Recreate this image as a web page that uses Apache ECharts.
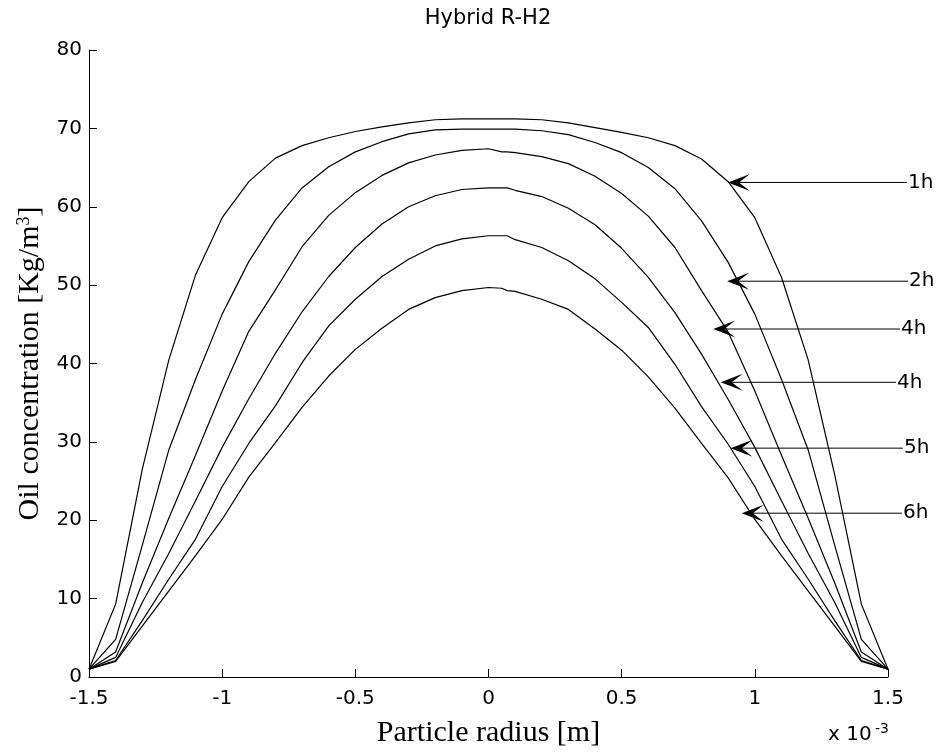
<!DOCTYPE html>
<html>
<head>
<meta charset="utf-8">
<script src="https://cdn.jsdelivr.net/npm/echarts@6/dist/echarts.min.js"></script>
<style>
  html, body { margin: 0; padding: 0; background: #fff; }
  #chart { width: 937px; height: 753px; }
</style>
</head>
<body>
<div id="chart"></div>
<script>
  // particle radius, in units of 10^-3 m
  const radius = [-1.5, -1.4, -1.3, -1.2, -1.1, -1.0, -0.9, -0.8, -0.7, -0.6, -0.5, -0.4, -0.3, -0.2, -0.1, 0,
    0.05, 0.07, 0.1, 0.2, 0.3, 0.4, 0.5, 0.6, 0.7, 0.8, 0.9, 1.0, 1.1, 1.2, 1.3, 1.4, 1.5]

  // oil concentration [Kg/m3] per curve
  const conc1h = [1.0, 9.3, 26.5, 40.5, 51.3, 58.6, 63.2, 66.2, 67.8, 68.8, 69.6, 70.2, 70.7, 71.1, 71.2, 71.2,
    71.2, 71.2, 71.2, 71.1, 70.7, 70.1, 69.5, 68.8, 67.8, 66.1, 63.2, 58.6, 51.0, 40.5, 25.8, 9.3, 1.0]
  const conc2h = [1.0, 4.8, 16.8, 29.0, 38.0, 46.3, 53.0, 58.3, 62.4, 65.1, 67.0, 68.3, 69.3, 69.8, 69.9, 69.9,
    69.9, 69.9, 69.9, 69.7, 69.2, 68.2, 66.9, 65.0, 62.3, 58.2, 52.9, 46.3, 38.0, 29.0, 16.8, 4.8, 1.0]
  const conc4hA = [1.0, 3.2, 12.0, 20.3, 28.3, 36.5, 44.1, 49.4, 54.9, 58.9, 61.8, 64.0, 65.6, 66.6, 67.2, 67.4,
    67.0, 67.0, 66.9, 66.4, 65.5, 63.9, 61.7, 58.8, 54.8, 49.3, 44.0, 36.5, 28.3, 20.3, 12.0, 3.2, 1.0]
  const conc4hB = [1.0, 2.5, 9.5, 15.8, 22.5, 29.3, 35.5, 41.3, 46.6, 51.1, 54.8, 57.8, 60.0, 61.4, 62.2, 62.4,
    62.4, 62.4, 62.1, 61.3, 59.8, 57.7, 54.7, 51.0, 46.5, 41.2, 35.4, 29.3, 22.5, 15.8, 9.5, 2.5, 1.0]
  const conc5h = [1.0, 2.1, 7.2, 12.5, 17.6, 24.3, 29.8, 34.6, 40.1, 44.8, 48.2, 51.1, 53.3, 55.0, 55.9, 56.3,
    56.3, 56.3, 55.8, 54.8, 53.1, 50.8, 47.8, 44.6, 39.9, 34.5, 29.7, 24.3, 17.6, 12.5, 7.2, 2.1, 1.0]
  const conc6h = [1.0, 2.0, 6.5, 11.0, 15.5, 20.1, 25.5, 29.9, 34.4, 38.4, 41.8, 44.5, 46.9, 48.4, 49.3, 49.7,
    49.6, 49.3, 49.2, 48.2, 46.9, 44.4, 41.7, 38.3, 34.3, 29.8, 25.4, 20.1, 15.5, 11.0, 6.5, 2.0, 1.0]

  // arrow annotations: label, arrow tip (x, y) and where the line meets the label (x)
  const annoLabels = ['1h', '2h', '4h', '4h', '5h', '6h']
  const annoTipX = [0.899, 0.896, 0.844, 0.872, 0.909, 0.951]
  const annoTipY = [63.1, 50.5, 44.4, 37.6, 29.2, 20.9]
  const annoEndX = [1.571, 1.575, 1.545, 1.530, 1.556, 1.553]

  const sansFont = 'DejaVu Sans, Arial, sans-serif'
  const serifFont = 'Liberation Serif, Times New Roman, serif'

  const curves = [conc1h, conc2h, conc4hA, conc4hB, conc5h, conc6h]

  function pairs(ys) {
    let out = []
    for (let i = 0; i < radius.length; i++) {
      out.push([radius[i], ys[i]])
    }
    return out
  }

  const chart = echarts.init(document.getElementById('chart'))

  const option = {
    animation: false,
    backgroundColor: '#fff',
    title: {
      text: 'Hybrid R-H2',
      left: 488,
      top: 8,
      padding: 0,
      textAlign: 'center',
      textStyle: { fontFamily: sansFont, fontSize: 21, fontWeight: 'normal', color: '#000' }
    },
    grid: { left: 89, right: 49, top: 50, bottom: 75 },
    xAxis: {
      type: 'value',
      min: -1.5,
      max: 1.5,
      interval: 0.5,
      name: 'Particle radius [m]',
      nameLocation: 'middle',
      nameGap: 41,
      nameTextStyle: { fontFamily: serifFont, fontSize: 30, color: '#000' },
      axisLine: { onZero: false, lineStyle: { color: '#000', width: 1 } },
      axisTick: { inside: true, length: 8, lineStyle: { color: '#000' } },
      axisLabel: { margin: 12, fontFamily: sansFont, fontSize: 20, color: '#000' },
      splitLine: { show: false }
    },
    yAxis: {
      type: 'value',
      min: 0,
      max: 80,
      interval: 10,
      name: 'Oil concentration [Kg/m{sup|3}]',
      nameLocation: 'middle',
      nameGap: 44,
      nameRotate: 90,
      nameTextStyle: {
        fontFamily: serifFont, fontSize: 30, color: '#000',
        rich: { sup: { fontFamily: serifFont, fontSize: 18, color: '#000', verticalAlign: 'top', lineHeight: 30 } }
      },
      axisLine: { show: true, onZero: false, lineStyle: { color: '#000', width: 1 } },
      axisTick: { show: true, inside: true, length: 8, lineStyle: { color: '#000' } },
      axisLabel: { margin: 7, fontFamily: sansFont, fontSize: 20, color: '#000' },
      splitLine: { show: false }
    },
    series: curves.map(function (ys, i) {
      return {
        name: annoLabels[i],
        type: 'line',
        data: pairs(ys),
        showSymbol: false,
        symbol: 'none',
        lineStyle: { color: '#000', width: 1.2 },
        z: 3
      }
    })
  }
  chart.setOption(option)

  // annotations: arrow line, filled arrow head, label text
  let graphics = []
  for (let i = 0; i < annoLabels.length; i++) {
    const tip = chart.convertToPixel({ gridIndex: 0 }, [annoTipX[i], annoTipY[i]])
    const end = chart.convertToPixel({ gridIndex: 0 }, [annoEndX[i], annoTipY[i]])
    graphics.push({
      type: 'line',
      shape: { x1: tip[0] + 10, y1: tip[1], x2: end[0], y2: tip[1] },
      style: { stroke: '#000', lineWidth: 1 },
      z: 10
    })
    graphics.push({
      type: 'polygon',
      shape: {
        points: [[tip[0], tip[1]], [tip[0] + 22, tip[1] - 8.5], [tip[0] + 11, tip[1]], [tip[0] + 22, tip[1] + 8.5]]
      },
      style: { fill: '#000' },
      z: 10
    })
    graphics.push({
      type: 'text',
      x: end[0] + 1,
      y: tip[1],
      style: { text: annoLabels[i], fontFamily: sansFont, fontSize: 20, fill: '#000', align: 'left', verticalAlign: 'middle' },
      z: 10
    })
  }
  // axis multiplier
  graphics.push({
    type: 'text', x: 828, y: 735,
    style: { text: 'x 10', fontFamily: sansFont, fontSize: 20, fill: '#000', align: 'left', verticalAlign: 'middle' }
  })
  graphics.push({
    type: 'text', x: 875, y: 729,
    style: { text: '-3', fontFamily: sansFont, fontSize: 14, fill: '#000', align: 'left', verticalAlign: 'middle' }
  })
  chart.setOption({ graphic: graphics })
</script>
</body>
</html>
